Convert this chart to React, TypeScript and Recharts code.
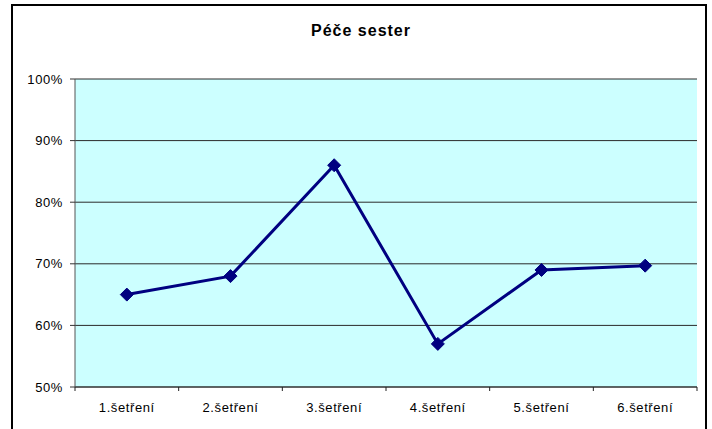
import { LineChart, Line, XAxis, YAxis, CartesianGrid } from "recharts";

const categories = ["1.šetření", "2.šetření", "3.šetření", "4.šetření", "5.šetření", "6.šetření"];
const careValues = [65, 68, 86, 57, 69, 69.7];
const yTicks = [50, 60, 70, 80, 90, 100];
const title = "Péče sester";

const data = categories.map((name, i) => ({ name, value: careValues[i] }));

const W = 712;
const H = 429;
const margin = { top: 79, right: 15, bottom: 0, left: 0 };
const xAxisHeight = 42;
const yAxisWidth = 75;
const plotWidth = W - margin.left - margin.right - yAxisWidth;
const halfBand = plotWidth / categories.length / 2;

const font = "'Liberation Sans', Arial, sans-serif";

function Diamond(props: any) {
  const { cx, cy, index } = props;
  if (cx == null || cy == null) return null;
  const r = 6.5;
  return (
    <polygon
      key={index}
      points={`${cx},${cy - r} ${cx + r},${cy} ${cx},${cy + r} ${cx - r},${cy}`}
      fill="#000080"
      stroke="#000080"
    />
  );
}

function CategoryTick(props: any) {
  const { x, y, payload, index } = props;
  return (
    <g>
      <line x1={x + halfBand} y1={y} x2={x + halfBand} y2={y + 4} stroke="#222" />
      {index === 0 && <line x1={x - halfBand} y1={y} x2={x - halfBand} y2={y + 4} stroke="#222" />}
      <text
        x={x}
        y={y + 25}
        textAnchor="middle"
        fontSize={13}
        letterSpacing={0.6}
        fill="#000"
        fontFamily={font}
      >
        {payload.value}
      </text>
    </g>
  );
}

export default function App() {
  return (
    <div style={{ position: "fixed", left: 0, top: 0, width: W, height: H, overflow: "hidden", background: "#fff" }}>
      <div
        style={{
          position: "absolute",
          left: 11,
          top: 4,
          width: 696,
          height: 440,
          border: "2px solid #000",
          boxSizing: "border-box",
        }}
      />
      <div
        style={{
          position: "absolute",
          left: 0,
          width: 722,
          top: 23,
          textAlign: "center",
          fontFamily: font,
          fontWeight: "bold",
          fontSize: 16,
          lineHeight: "16px",
          letterSpacing: 1,
          color: "#000",
        }}
      >
        {title}
      </div>
      <div style={{ position: "absolute", left: 0, top: 0 }}>
        <LineChart width={W} height={H} data={data} margin={margin}>
          <CartesianGrid vertical={false} stroke="#2a2a2a" fill="#ccffff" fillOpacity={1} />
          <XAxis
            dataKey="name"
            padding={{ left: halfBand, right: halfBand }}
            axisLine={{ stroke: "#333" }}
            tickLine={false}
            tickSize={0}
            tickMargin={0}
            interval={0}
            tick={<CategoryTick />}
            height={xAxisHeight}
          />
          <YAxis
            domain={[50, 100]}
            ticks={yTicks}
            width={yAxisWidth}
            tickFormatter={(v: number) => `${v}%`}
            axisLine={{ stroke: "#555" }}
            tickLine={{ stroke: "#333" }}
            tickSize={5}
            tickMargin={7}
            tick={{ fontSize: 13, fill: "#000", fontFamily: font, letterSpacing: 0.6 }}
          />
          <YAxis
            yAxisId="frame"
            orientation="right"
            width={0}
            tick={false}
            tickLine={false}
            axisLine={{ stroke: "#999" }}
          />
          <Line
            type="linear"
            dataKey="value"
            stroke="#000080"
            strokeWidth={3}
            dot={Diamond}
            activeDot={false}
            isAnimationActive={false}
          />
        </LineChart>
      </div>
    </div>
  );
}
